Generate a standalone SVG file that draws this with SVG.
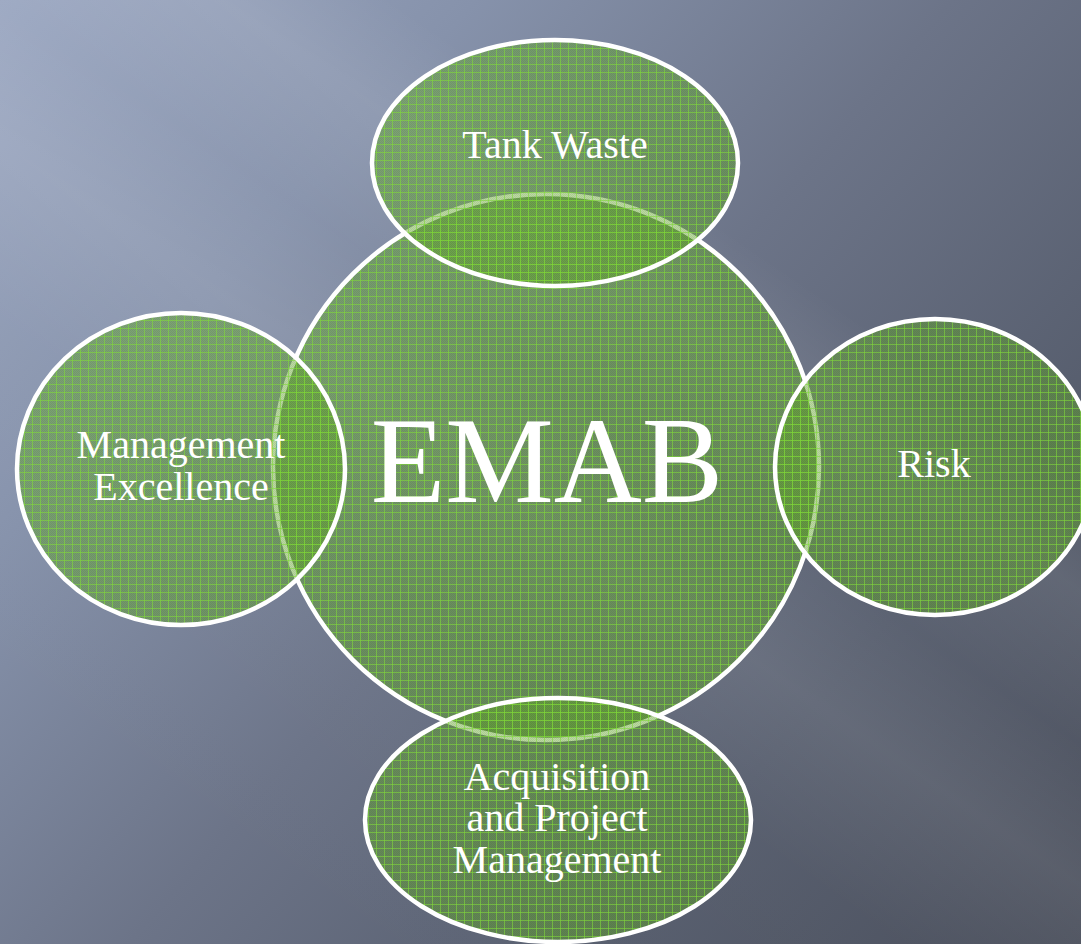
<svg xmlns="http://www.w3.org/2000/svg" width="1081" height="944" viewBox="0 0 1081 944">
  <defs>
    <linearGradient id="bg" x1="0" y1="0" x2="1081" y2="944" gradientUnits="userSpaceOnUse">
      <stop offset="0" stop-color="#9ca8c2"/>
      <stop offset="0.25" stop-color="#8692ab"/>
      <stop offset="0.5" stop-color="#6c7488"/>
      <stop offset="0.75" stop-color="#575e6e"/>
      <stop offset="1" stop-color="#474c59"/>
    </linearGradient>
    <linearGradient id="streak" x1="100" y1="800" x2="650" y2="0" gradientUnits="userSpaceOnUse">
      <stop offset="0" stop-color="#ffffff" stop-opacity="0"/>
      <stop offset="0.35" stop-color="#ffffff" stop-opacity="0.02"/>
      <stop offset="0.5" stop-color="#ffffff" stop-opacity="0.09"/>
      <stop offset="0.62" stop-color="#ffffff" stop-opacity="0.03"/>
      <stop offset="0.75" stop-color="#ffffff" stop-opacity="0.09"/>
      <stop offset="0.85" stop-color="#ffffff" stop-opacity="0"/>
      <stop offset="1" stop-color="#ffffff" stop-opacity="0"/>
    </linearGradient>
    <pattern id="dots" width="2" height="2" patternUnits="userSpaceOnUse">
      <rect width="2" height="2" fill="#64a82a" fill-opacity="0.44"/>
      <rect width="1" height="1" fill="#3e6a22" fill-opacity="0.12"/>
      <rect x="1" y="1" width="1" height="1" fill="#3e6a22" fill-opacity="0.12"/>
    </pattern>
    <pattern id="grid" width="8" height="8" patternUnits="userSpaceOnUse">
      <rect width="8" height="8" fill="url(#dots)"/>
      <rect width="8" height="1" fill="#80d83a" fill-opacity="0.6"/>
      <rect width="1" height="8" fill="#80d83a" fill-opacity="0.6"/>
    </pattern>
  </defs>
  <style>
    .node { fill: url(#grid); stroke: #ffffff; stroke-width: 4.5; }
    .lbl { font-family: "Liberation Serif", "DejaVu Serif", serif; font-size: 40px; fill: #ffffff; text-anchor: middle; }
    .big { font-family: "Liberation Serif", "DejaVu Serif", serif; font-size: 122px; fill: #ffffff; text-anchor: middle; }
  </style>
  <rect width="1081" height="944" fill="url(#bg)"/>
  <rect width="1081" height="944" fill="url(#streak)"/>
  <g id="connectors"/>
  <g id="emab">
    <circle class="node" cx="546" cy="467" r="273"/>
    <text class="big" x="547" y="502">EMAB</text>
  </g>
  <g id="tank-waste">
    <ellipse class="node" cx="555" cy="163" rx="183" ry="123"/>
    <text class="lbl" x="555" y="158">Tank Waste</text>
  </g>
  <g id="management-excellence">
    <ellipse class="node" cx="181" cy="469" rx="164" ry="156"/>
    <text class="lbl" x="181" y="458">Management</text>
    <text class="lbl" x="181" y="500">Excellence</text>
  </g>
  <g id="risk">
    <ellipse class="node" cx="935" cy="467" rx="160" ry="148"/>
    <text class="lbl" x="934" y="477">Risk</text>
  </g>
  <g id="acquisition">
    <ellipse class="node" cx="558" cy="820" rx="193" ry="122"/>
    <text class="lbl" x="557" y="790">Acquisition</text>
    <text class="lbl" x="557" y="831">and Project</text>
    <text class="lbl" x="557" y="873">Management</text>
  </g>
</svg>
